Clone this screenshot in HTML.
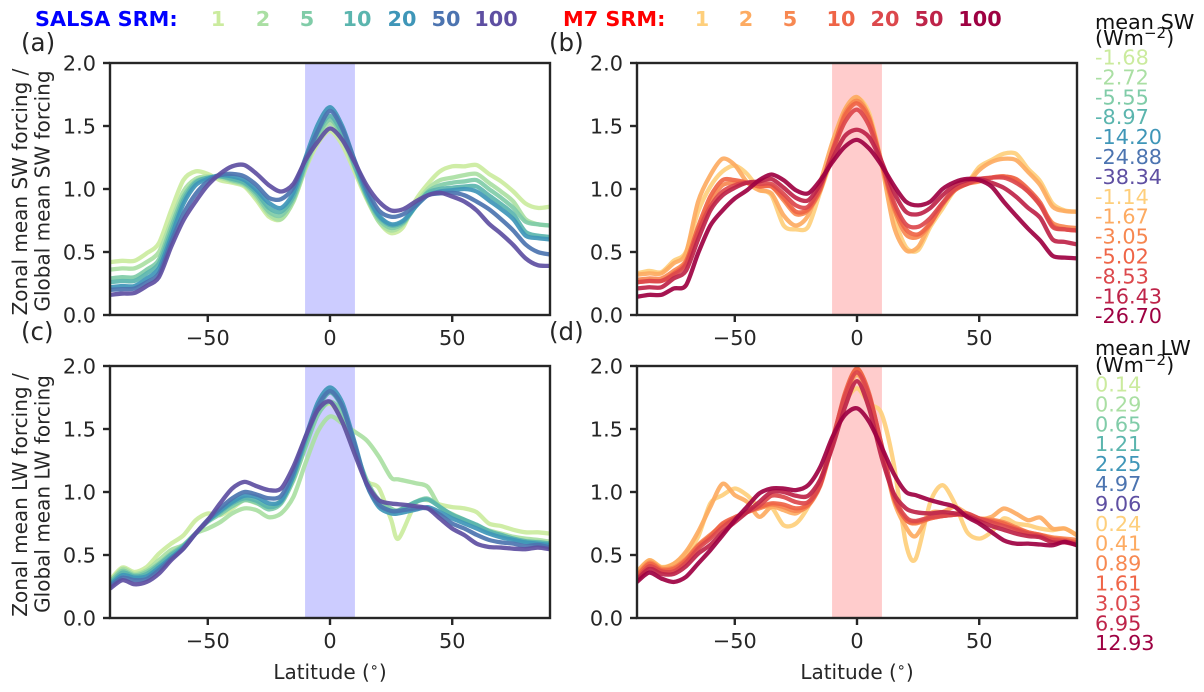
<!DOCTYPE html>
<html>
<head>
<meta charset="utf-8">
<title>Zonal mean forcing chart</title>
<style>
html,body{margin:0;padding:0;background:#fff;}
svg{display:block;font-family:"DejaVu Sans","Liberation Sans",sans-serif;}
text{fill:#262626;}
</style>
</head>
<body>
<svg id="chart" width="1204" height="692" viewBox="0 0 1204 692" xmlns="http://www.w3.org/2000/svg">
<defs>
<clipPath id="clip-a"><rect x="110" y="63" width="440" height="252"/></clipPath>
<clipPath id="clip-b"><rect x="637" y="63" width="440" height="252"/></clipPath>
<clipPath id="clip-c"><rect x="110" y="366" width="440" height="252"/></clipPath>
<clipPath id="clip-d"><rect x="637" y="366" width="440" height="252"/></clipPath>
</defs>
<text x="35" y="26" font-size="20.8" font-weight="bold" style="fill:#0000ff">SALSA SRM:</text>
<text x="563" y="26" font-size="20.8" font-weight="bold" style="fill:#ff0000">M7 SRM:</text>
<text x="1095" y="29" font-size="20.8" style="fill:#111">mean SW</text>
<text x="1095" y="45" font-size="20.8" style="fill:#111">(Wm<tspan dy="-7" font-size="15">−2</tspan><tspan dy="7">)</tspan></text>
<text x="1095" y="355" font-size="20.8" style="fill:#111">mean LW</text>
<text x="1095" y="372" font-size="20.8" style="fill:#111">(Wm<tspan dy="-7" font-size="15">−2</tspan><tspan dy="7">)</tspan></text>
<text x="21" y="51" font-size="24.5">(a)</text>
<text x="549" y="51" font-size="24.5">(b)</text>
<text x="21" y="340" font-size="24.5">(c)</text>
<text x="549" y="340" font-size="24.5">(d)</text>
<text transform="translate(27,192) rotate(-90)" text-anchor="middle" font-size="20">Zonal mean SW forcing /</text>
<text transform="translate(49.5,191) rotate(-90)" text-anchor="middle" font-size="20">Global mean SW forcing</text>
<text transform="translate(27,495) rotate(-90)" text-anchor="middle" font-size="20">Zonal mean LW forcing /</text>
<text transform="translate(49.5,494) rotate(-90)" text-anchor="middle" font-size="20">Global mean LW forcing</text>
<text x="330" y="679" text-anchor="middle" font-size="20">Latitude (<tspan dy="-7" font-size="14.5">∘</tspan><tspan dy="7">)</tspan></text>
<text x="857" y="679" text-anchor="middle" font-size="20">Latitude (<tspan dy="-7" font-size="14.5">∘</tspan><tspan dy="7">)</tspan></text>
</svg>
<script>
var latitudes = [-90,-85,-80,-75,-70,-65,-60,-55,-50,-45,-40,-35,-30,-25,-20,-15,-10,-5,0,5,10,15,20,25,30,35,40,45,50,55,60,65,70,75,80,85,90];
var latitudesC = [-90,-85,-80,-75,-70,-65,-60,-55,-50,-45,-40,-35,-30,-25,-20,-15,-10,-5,0,5,10,15,20,25,28,35,40,45,50,55,60,65,70,75,80,85,90];
var latitudesD = [-90,-85,-80,-75,-70,-65,-60,-55,-50,-45,-40,-35,-30,-25,-20,-15,-10,-5,0,5,10,15,20,24,30,35,40,45,50,55,60,65,70,75,80,85,90];
var xTicks = [-50,0,50];
var yTicks = [0,0.5,1,1.5,2];
var yTickLabels = ['0.0','0.5','1.0','1.5','2.0'];
var srmLabels = ['1','2','5','10','20','50','100'];
var salsaColors = ['#cbeb9e','#aadfa3','#80cca8','#5bb5ae','#3f96b8','#4c74b0','#5e4fa2'];
var m7Colors = ['#fecf7c','#fdab62','#f78851','#ef6547','#dc484c','#be2449','#9e0142'];
var meanSW = ['-1.68','-2.72','-5.55','-8.97','-14.20','-24.88','-38.34','-1.14','-1.67','-3.05','-5.02','-8.53','-16.43','-26.70'];
var meanLW = ['0.14','0.29','0.65','1.21','2.25','4.97','9.06','0.24','0.41','0.89','1.61','3.03','6.95','12.93'];

var swSalsa1 = [.42,.43,.43,.49,.57,.83,1.07,1.14,1.12,1.07,1.05,1.02,.91,.78,.76,.90,1.16,1.36,1.46,1.35,1.14,.92,.74,.65,.70,.91,1.04,1.14,1.18,1.18,1.19,1.12,1.06,.98,.885,.85,.86];
var swSalsa2 = [.36,.37,.37,.42,.50,.74,.98,1.08,1.10,1.09,1.06,1.03,.93,.80,.76,.90,1.17,1.40,1.52,1.40,1.17,.93,.74,.67,.72,.88,1.00,1.07,1.09,1.11,1.12,1.05,.98,.90,.76,.72,.71];
var swSalsa5 = [.29,.30,.30,.36,.44,.70,.94,1.06,1.09,1.10,1.07,1.04,.95,.82,.79,.92,1.19,1.42,1.55,1.42,1.18,.94,.76,.69,.73,.86,.98,1.03,1.05,1.06,1.07,1.00,.93,.85,.74,.72,.71];
var swSalsa10 = [.26,.27,.27,.33,.41,.66,.91,1.05,1.09,1.10,1.08,1.05,.97,.85,.82,.94,1.21,1.45,1.58,1.44,1.19,.95,.78,.71,.74,.86,.97,1.00,1.01,1.02,1.02,.95,.88,.80,.66,.63,.62];
var swSalsa20 = [.22,.23,.23,.29,.37,.62,.88,1.03,1.08,1.11,1.10,1.07,.99,.89,.85,.97,1.25,1.51,1.65,1.50,1.23,.97,.79,.72,.75,.86,.95,.98,.99,1.00,.98,.91,.84,.76,.63,.61,.60];
var swSalsa50 = [.20,.205,.21,.26,.33,.58,.80,.96,1.06,1.11,1.12,1.10,1.03,.93,.92,1.01,1.24,1.46,1.62,1.48,1.23,1.00,.83,.78,.80,.87,.95,.965,.97,.95,.90,.84,.76,.67,.56,.50,.48];
var swSalsa100 = [.16,.17,.175,.23,.30,.54,.75,.90,1.03,1.12,1.18,1.19,1.12,1.03,.98,1.04,1.23,1.375,1.48,1.39,1.215,1.03,.90,.83,.84,.90,.95,.97,.94,.90,.83,.725,.645,.555,.45,.395,.39];

var swM7a = [.33,.35,.34,.43,.50,.82,1.02,1.14,1.185,1.12,1.00,.95,.71,.68,.70,.98,1.255,1.57,1.72,1.60,1.215,.79,.54,.515,.70,.845,.99,1.045,1.175,1.23,1.28,1.28,1.16,1.06,.885,.83,.82];
var swM7b = [.32,.33,.33,.41,.49,.90,1.11,1.24,1.19,1.055,.99,.965,.79,.71,.79,1.055,1.375,1.63,1.73,1.57,1.20,.71,.515,.54,.725,.87,1.00,1.045,1.15,1.215,1.24,1.23,1.135,1.03,.86,.825,.82];
var swM7c = [.28,.29,.29,.35,.43,.68,.90,1.03,1.05,1.05,1.02,1.02,.91,.80,.83,.99,1.30,1.60,1.70,1.57,1.21,.85,.64,.62,.72,.88,.99,1.04,1.06,1.09,1.10,1.07,.98,.87,.73,.70,.69];
var swM7d = [.26,.27,.27,.33,.42,.70,.94,1.07,1.07,1.05,1.02,1.02,.93,.82,.84,1.00,1.31,1.58,1.68,1.55,1.21,.87,.68,.64,.73,.88,.99,1.04,1.07,1.09,1.10,1.08,1.00,.89,.71,.68,.67];
var swM7e = [.26,.27,.27,.32,.40,.66,.86,.98,1.03,1.05,1.04,1.04,.96,.87,.86,1.02,1.30,1.53,1.63,1.50,1.22,.90,.72,.70,.77,.89,1.00,1.04,1.08,1.09,1.09,1.05,.98,.87,.70,.68,.67];
var swM7f = [.21,.22,.22,.29,.35,.60,.83,.95,1.01,1.05,1.06,1.08,1.01,.93,.91,1.04,1.24,1.42,1.47,1.41,1.22,.98,.82,.80,.85,.95,1.03,1.07,1.08,1.05,1.01,.94,.85,.77,.60,.58,.56];
var swM7g = [.145,.16,.16,.21,.235,.49,.71,.83,.925,.99,1.07,1.115,1.07,.99,.965,1.07,1.215,1.335,1.39,1.32,1.19,1.03,.90,.87,.90,1.00,1.055,1.08,1.07,1.02,.90,.79,.685,.59,.47,.455,.45];

var lwSalsa1 = [.30,.40,.365,.405,.51,.59,.655,.775,.83,.815,.87,.935,.91,.88,.935,1.09,1.36,1.62,1.70,1.57,1.32,1.09,1.03,.78,.63,.91,.935,.90,.88,.87,.84,.75,.73,.70,.68,.68,.67];
var lwSalsa2 = [.285,.39,.35,.38,.46,.54,.58,.67,.71,.76,.83,.87,.855,.80,.83,.96,1.23,1.48,1.60,1.545,1.48,1.41,1.28,1.115,1.10,1.07,1.04,.88,.825,.78,.735,.695,.67,.645,.63,.62,.605];
var lwSalsa5 = [.286,.374,.339,.366,.432,.511,.577,.67,.763,.824,.887,.935,.914,.861,.909,1.094,1.359,1.611,1.717,1.624,1.359,1.094,.935,.869,.856,.922,.948,.882,.816,.776,.736,.683,.657,.63,.604,.604,.591];
var lwSalsa10 = [.27,.36,.33,.35,.42,.50,.57,.67,.77,.84,.91,.95,.93,.88,.92,1.12,1.40,1.66,1.79,1.67,1.38,1.07,.90,.85,.85,.92,.94,.88,.82,.78,.74,.69,.66,.63,.61,.60,.59];
var lwSalsa20 = [.26,.34,.32,.33,.40,.48,.56,.67,.77,.85,.92,.97,.96,.91,.93,1.13,1.43,1.71,1.83,1.71,1.40,1.06,.88,.83,.83,.86,.88,.84,.79,.75,.71,.67,.64,.62,.60,.59,.58];
var lwSalsa50 = [.25,.32,.30,.31,.38,.47,.55,.67,.78,.87,.95,1.00,.98,.95,.97,1.16,1.44,1.68,1.80,1.68,1.38,1.06,.90,.85,.85,.87,.87,.82,.75,.71,.66,.62,.60,.59,.57,.58,.56];
var lwSalsa100 = [.233,.30,.268,.286,.352,.458,.55,.67,.776,.909,1.028,1.08,1.046,1.015,1.028,1.2,1.438,1.65,1.717,1.557,1.306,1.068,.935,.909,.903,.887,.869,.789,.71,.657,.59,.564,.559,.55,.546,.559,.546];

var lwM7a = [.352,.458,.405,.43,.51,.644,.909,.975,1.028,.975,.882,.88,.736,.75,.882,1.094,1.412,1.703,1.823,1.70,1.624,1.226,.59,.47,.92,1.054,.909,.683,.63,.683,.79,.75,.736,.71,.697,.71,.657];
var lwM7b = [.366,.458,.40,.43,.525,.683,.882,1.065,.975,.922,.803,.882,.856,.83,.909,1.068,1.412,1.756,1.93,1.756,1.359,.935,.723,.65,.83,.842,.882,.83,.789,.803,.869,.829,.776,.797,.71,.71,.657];
var lwM7c = [.34,.44,.39,.40,.47,.58,.66,.74,.79,.84,.87,.90,.88,.85,.89,1.05,1.38,1.75,1.98,1.76,1.35,.95,.78,.75,.79,.81,.82,.82,.79,.78,.76,.72,.68,.66,.64,.63,.62];
var lwM7d = [.33,.43,.38,.39,.46,.57,.65,.75,.80,.84,.88,.91,.90,.87,.90,1.06,1.40,1.78,1.98,1.78,1.37,.96,.78,.76,.79,.81,.82,.82,.79,.77,.75,.71,.68,.66,.63,.62,.60];
var lwM7e = [.31,.41,.37,.37,.44,.55,.63,.72,.79,.84,.89,.97,.96,.92,.92,1.06,1.42,1.76,1.95,1.76,1.38,.97,.80,.77,.80,.81,.82,.83,.79,.76,.73,.70,.67,.65,.62,.61,.59];
var lwM7f = [.30,.39,.35,.35,.41,.51,.58,.68,.76,.84,.92,1.00,1.00,.97,.97,1.10,1.36,1.67,1.88,1.66,1.28,.99,.87,.84,.83,.84,.83,.81,.77,.73,.70,.67,.65,.64,.60,.60,.58];
var lwM7g = [.286,.36,.313,.286,.326,.432,.538,.657,.776,.882,.988,1.028,1.028,1.015,1.054,1.2,1.438,1.61,1.664,1.557,1.359,1.147,1.001,.975,.935,.909,.882,.803,.75,.683,.617,.59,.59,.583,.577,.604,.577];

var panelASeries = [swSalsa1,swSalsa2,swSalsa5,swSalsa10,swSalsa20,swSalsa50,swSalsa100];
var panelBSeries = [swM7a,swM7b,swM7c,swM7d,swM7e,swM7f,swM7g];
var panelCSeries = [lwSalsa1,lwSalsa2,lwSalsa5,lwSalsa10,lwSalsa20,lwSalsa50,lwSalsa100];
var panelDSeries = [lwM7a,lwM7b,lwM7c,lwM7d,lwM7e,lwM7f,lwM7g];

var NS = 'http://www.w3.org/2000/svg';
var svg = document.getElementById('chart');
var DARK = '#262626';
var TICK_FONT = 20.8;

function mk(tag, attrs, text) {
  var el = document.createElementNS(NS, tag);
  for (var k in attrs) { el.setAttribute(k, attrs[k]); }
  if (text !== undefined) { el.textContent = text; }
  svg.appendChild(el);
  return el;
}

function smoothPath(xs, ys) {
  var d = 'M' + xs[0].toFixed(2) + ' ' + ys[0].toFixed(2);
  for (var i = 0; i < xs.length - 1; i++) {
    var p0 = Math.max(i - 1, 0), p3 = Math.min(i + 2, xs.length - 1);
    var c1x = xs[i] + (xs[i + 1] - xs[p0]) / 7, c1y = ys[i] + (ys[i + 1] - ys[p0]) / 7;
    var c2x = xs[i + 1] - (xs[p3] - xs[i]) / 7, c2y = ys[i + 1] - (ys[p3] - ys[i]) / 7;
    d += 'C' + c1x.toFixed(2) + ' ' + c1y.toFixed(2) + ' ' + c2x.toFixed(2) + ' ' + c2y.toFixed(2) + ' ' + xs[i + 1].toFixed(2) + ' ' + ys[i + 1].toFixed(2);
  }
  return d;
}

function drawPanel(id, left, top, lats, series, colors, shade) {
  var w = 440, h = 252;
  var xScale = function (lat) { return left + (lat + 90) / 180 * w; };
  var yScale = function (v) { return top + h - v / 2 * h; };

  var band = mk('rect', {x: xScale(-10.2), y: top, width: xScale(10.2) - xScale(-10.2), height: h, fill: shade});
  
  

  series.forEach(function (vals, s) {
    var xs = lats.map(xScale);
    var ys = vals.map(yScale);
    var line = mk('path', {d: smoothPath(xs, ys), fill: 'none', stroke: colors[s], 'stroke-width': 4.3, 'stroke-opacity': 0.92, 'stroke-linejoin': 'round', 'clip-path': 'url(#clip-' + id + ')'});
    
    
  });

  var frame = mk('rect', {x: left, y: top, width: w, height: h, fill: 'none', stroke: DARK, 'stroke-width': 2.4});
  
  

  xTicks.forEach(function (t) {
    var tick = mk('line', {x1: xScale(t), x2: xScale(t), y1: top + h, y2: top + h + 7, stroke: DARK, 'stroke-width': 2.4});
    
    
    var lab = mk('text', {x: xScale(t), y: top + h + 30, 'text-anchor': 'middle', 'font-size': TICK_FONT}, t < 0 ? '−' + Math.abs(t) : String(t));
    
    
  });
  yTicks.forEach(function (t, i) {
    var tick = mk('line', {x1: left - 7, x2: left, y1: yScale(t), y2: yScale(t), stroke: DARK, 'stroke-width': 2.4});
    
    
    var lab = mk('text', {x: left - 14, y: yScale(t) + 7.7, 'text-anchor': 'end', 'font-size': TICK_FONT}, yTickLabels[i]);
    
    
  });
}

drawPanel('a', 110, 63, latitudes, panelASeries, salsaColors, '#ccccff');
drawPanel('b', 637, 63, latitudes, panelBSeries, m7Colors, '#ffcccc');
drawPanel('c', 110, 366, latitudesC, panelCSeries, salsaColors, '#ccccff');
drawPanel('d', 637, 366, latitudesD, panelDSeries, m7Colors, '#ffcccc');

var salsaLegendCenters = [218,263,307,357,402,446,496];
var m7LegendCenters = [702,746,790,841,885,929,980];
srmLabels.forEach(function (label, i) {
  var a = mk('text', {x: salsaLegendCenters[i], y: 26, 'text-anchor': 'middle', 'font-size': 20.8, 'font-weight': 'bold', style: 'fill:' + salsaColors[i]}, label);
  
  
  var b = mk('text', {x: m7LegendCenters[i], y: 26, 'text-anchor': 'middle', 'font-size': 20.8, 'font-weight': 'bold', style: 'fill:' + m7Colors[i]}, label);
  
  
});

var valueColors = salsaColors.concat(m7Colors);
meanSW.forEach(function (v, i) {
  var t = mk('text', {x: 1095, y: 64.5 + i * 19.9, 'font-size': 20.8, style: 'fill:' + valueColors[i]}, v);
  
  
});
meanLW.forEach(function (v, i) {
  var t = mk('text', {x: 1095, y: 391.5 + i * 19.9, 'font-size': 20.8, style: 'fill:' + valueColors[i]}, v);
  
  
});
</script>
</body>
</html>
